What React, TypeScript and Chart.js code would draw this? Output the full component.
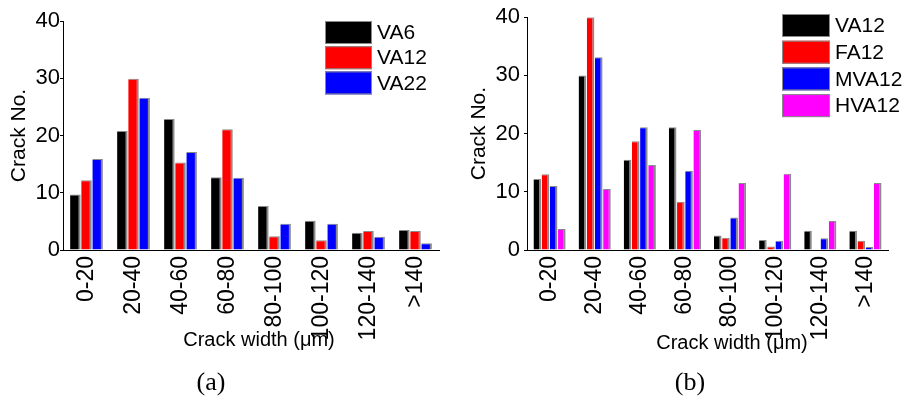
import React, { useEffect, useRef } from "react";
import { Chart, registerables } from "chart.js";

Chart.register(...registerables);

// Crack width classes (µm)
const widthBins = ["0-20", "20-40", "40-60", "60-80", "80-100", "100-120", "120-140", ">140"];

// Panel (a): effect of aggregate size
const va6 = [9.7, 20.8, 22.9, 12.7, 7.7, 5.1, 3.0, 3.5];
const va12a = [12.2, 29.9, 15.3, 21.1, 2.4, 1.7, 3.3, 3.3];
const va22 = [15.9, 26.6, 17.1, 12.6, 4.6, 4.6, 2.3, 1.2];

// Panel (b): effect of binder type
const va12b = [12.2, 30.0, 15.5, 21.1, 2.5, 1.7, 3.3, 3.3];
const fa12 = [13.0, 40.0, 18.7, 8.3, 2.1, 0.6, 0.1, 1.6];
const mva12 = [11.0, 33.1, 21.1, 13.6, 5.6, 1.6, 2.0, 0.5];
const hva12 = [3.6, 10.5, 14.6, 20.6, 11.5, 13.1, 5.0, 11.5];

// Labelled y ticks (minor marks every 5)
const yTickLabels = [0, 10, 20, 30, 40];

const SANS = "'Liberation Sans', Arial, Helvetica, sans-serif";
const SERIF = "'Liberation Serif', 'Times New Roman', serif";

const panelText = {
  id: "panelText",
  afterDraw(chart: any, _args: any, opts: any) {
    const ctx: CanvasRenderingContext2D = chart.ctx;
    const lg = opts.legend;
    ctx.save();
    chart.data.datasets.forEach((ds: any, i: number) => {
      const y = lg.y + i * lg.pitch;
      ctx.fillStyle = ds.backgroundColor;
      ctx.fillRect(lg.x, y, lg.w, lg.h);
      ctx.strokeStyle = "#8a8a8a";
      ctx.lineWidth = 1;
      ctx.strokeRect(lg.x + 0.5, y + 0.5, lg.w - 1, lg.h - 1);
      ctx.fillStyle = "#000";
      ctx.font = `21px ${SANS}`;
      ctx.textAlign = "left";
      ctx.textBaseline = "middle";
      ctx.fillText(ds.label, lg.x + lg.w + 5, y + lg.h / 2 + 1);
    });
    ctx.fillStyle = "#000";
    ctx.textAlign = "center";
    ctx.textBaseline = "middle";
    ctx.font = `20px ${SANS}`;
    ctx.fillText("Crack width (\u03bcm)", opts.xTitle.x, opts.xTitle.y);
    ctx.font = `26px ${SERIF}`;
    ctx.fillText(opts.tag.text, opts.tag.x, opts.tag.y);
    ctx.restore();
  },
};

type Series = { label: string; data: number[]; color: string };

type PanelProps = {
  left: number;
  width: number;
  series: Series[];
  padTop: number;
  padRight: number;
  yAxisWidth: number;
  yLabelPad: number;
  yTitlePad: number;
  catPct: number;
  barPct: number;
  legend: { x: number; y: number; w: number; h: number; pitch: number };
  xTitle: { x: number; y: number };
  tag: { text: string; x: number; y: number };
};

function Panel(p: PanelProps) {
  const ref = useRef<HTMLCanvasElement | null>(null);

  useEffect(() => {
    if (!ref.current) return;
    const chart = new Chart(ref.current, {
      type: "bar",
      data: {
        labels: widthBins,
        datasets: p.series.map((s) => ({
          label: s.label,
          data: s.data,
          backgroundColor: s.color,
          borderColor: "#8a8a8a",
          borderWidth: { top: 1, right: 2, left: 0, bottom: 0 },
          borderSkipped: false,
          categoryPercentage: p.catPct,
          barPercentage: p.barPct,
        })),
      },
      options: {
        responsive: false,
        animation: false,
        layout: { padding: { left: 0, top: p.padTop, right: p.padRight, bottom: 0 } },
        plugins: {
          legend: { display: false },
          tooltip: { enabled: false },
          panelText: { legend: p.legend, xTitle: p.xTitle, tag: p.tag },
        } as any,
        scales: {
          x: {
            grid: { display: false, drawTicks: false },
            border: { display: true, color: "#000", width: 1 },
            ticks: {
              color: "#000",
              font: { family: SANS, size: 23 },
              minRotation: 90,
              maxRotation: 90,
              autoSkip: false,
              padding: 6,
            },
            afterFit: (s: any) => {
              s.height = 155;
            },
          },
          y: {
            min: 0,
            max: 40,
            ticks: {
              stepSize: 5,
              color: "#000",
              font: { family: SANS, size: 22 },
              padding: p.yLabelPad,
              callback: (v: any) => (yTickLabels.includes(Number(v)) ? String(v) : ""),
            },
            grid: { drawOnChartArea: false, drawTicks: true, tickLength: 3, color: "#000" },
            border: { display: true, color: "#000", width: 1 },
            title: {
              display: true,
              text: "Crack No.",
              color: "#000",
              font: { family: SANS, size: 21 },
              padding: { top: p.yTitlePad, bottom: 0 },
            },
            afterFit: (s: any) => {
              s.width = p.yAxisWidth;
            },
          },
        },
      },
      plugins: [panelText],
    });
    return () => chart.destroy();
  }, []);

  return (
    <canvas
      ref={ref}
      width={p.width}
      height={405}
      style={{ position: "absolute", left: p.left, top: 0, width: p.width, height: 405 }}
    />
  );
}

export default function App() {
  return (
    <div
      style={{
        position: "fixed",
        left: 0,
        top: 0,
        width: 909,
        height: 405,
        background: "#fff",
        overflow: "hidden",
      }}
    >
      <Panel
        left={0}
        width={455}
        series={[
          { label: "VA6", data: va6, color: "#000000" },
          { label: "VA12", data: va12a, color: "#ff0000" },
          { label: "VA22", data: va22, color: "#0000ff" },
        ]}
        padTop={21}
        padRight={16}
        yAxisWidth={63}
        yLabelPad={0}
        yTitlePad={7}
        catPct={0.71}
        barPct={0.95}
        legend={{ x: 325, y: 21, w: 47, h: 23, pitch: 25.2 }}
        xTitle={{ x: 259, y: 340 }}
        tag={{ text: "(a)", x: 211, y: 383 }}
      />
      <Panel
        left={455}
        width={454}
        series={[
          { label: "VA12", data: va12b, color: "#000000" },
          { label: "FA12", data: fa12, color: "#ff0000" },
          { label: "MVA12", data: mva12, color: "#0000ff" },
          { label: "HVA12", data: hva12, color: "#ff00ff" },
        ]}
        padTop={17}
        padRight={21}
        yAxisWidth={72}
        yLabelPad={4}
        yTitlePad={12}
        catPct={0.725}
        barPct={0.93}
        legend={{ x: 327, y: 14, w: 48, h: 23, pitch: 26.7 }}
        xTitle={{ x: 277, y: 343 }}
        tag={{ text: "(b)", x: 235, y: 383 }}
      />
    </div>
  );
}
